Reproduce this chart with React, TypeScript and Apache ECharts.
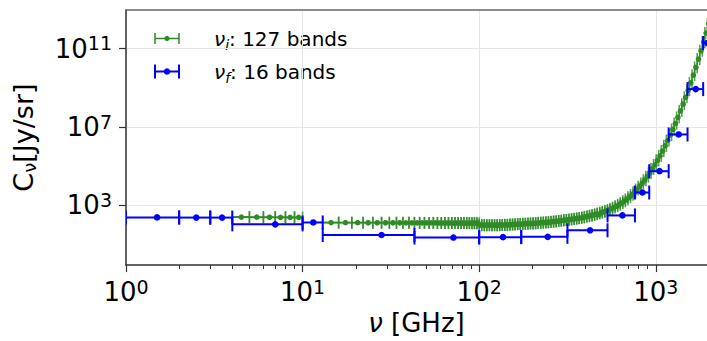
import React, { useEffect, useRef } from 'react';
import * as echarts from 'echarts';

const FONT = "'DejaVu Sans', 'Liberation Sans', sans-serif";
const GREEN = '#2e8b25';
const BLUE = '#0000ff';

// nu_i : 127 bands (band edges per group, value per band)
const greenEdgesA = [4, 5, 6, 7, 8, 9, 10];
const greenValuesA = [255, 252, 250, 248, 246, 244];

const greenEdgesB = [13, 16, 19, 22, 25, 28, 31, 34, 37, 40, 43, 46, 49, 52, 55, 58, 61, 64, 67, 70, 73, 76, 79, 82, 85, 88, 91, 94, 97, 100];
const greenValuesB = [133, 132, 132, 131, 131, 130, 130, 130, 129, 129, 129, 128, 128, 128, 128, 127, 127, 127, 127, 126, 126, 126, 126, 126, 125, 125, 125, 125, 125];

const greenEdgesC = [100, 103.4, 106.9, 110.5, 114.3, 118.2, 122.2, 126.4, 130.7, 135.1, 139.7, 144.5, 149.4, 154.5, 159.7, 165.2, 170.8, 176.6, 182.6, 188.8, 195.2, 201.9, 208.7, 215.8, 223.2, 230.8, 238.6, 246.7, 255.1, 263.8, 272.8, 282.1, 291.6, 301.6, 311.8, 322.4, 333.4, 344.7, 356.4, 368.5, 381.1, 394.0, 407.4, 421.3, 435.6, 450.4, 465.7, 481.5, 497.9, 514.8, 532.3, 550.4, 569.1, 588.5, 608.5, 629.2, 650.6, 672.7, 695.6, 719.2, 743.7, 768.9, 795.1, 822.1, 850.1, 879.0, 908.9, 939.8, 971.7, 1004.8, 1038.9, 1074.3, 1110.8, 1148.5, 1187.6, 1228.0, 1269.7, 1312.9, 1357.5, 1403.7, 1451.4, 1500.7, 1551.8, 1604.5, 1659.1, 1715.5, 1773.8, 1834.1, 1896.5, 1961.0, 2027.6, 2096.5, 2167.8];
const greenValuesC = [98, 98, 98, 98, 98, 98, 98, 98, 100, 100, 102, 102, 105, 107, 110, 112, 112, 115, 117, 120, 120, 123, 126, 129, 132, 135, 138, 141, 148, 151, 158, 162, 170, 178, 182, 191, 200, 209, 219, 229, 245, 263, 282, 302, 324, 355, 389, 427, 468, 525, 589, 676, 776, 912, 1096, 1318, 1622, 2042, 2630, 3467, 4677, 6457, 9120, 1.32e4, 1.95e4, 2.95e4, 4.57e4, 7.24e4, 1.17e5, 2.0e5, 3.39e5, 6.03e5, 1.1e6, 2.04e6, 3.89e6, 7.59e6, 1.51e7, 3.16e7, 6.76e7, 1.48e8, 3.31e8, 7.59e8, 1.82e9, 4.47e9, 1.12e10, 2.95e10, 7.94e10, 2.19e11, 6.31e11, 1.86e12, 5.75e12, 1.82e13];

// nu_f : 16 bands
const blueLow = [1, 2, 3, 4, 10, 13, 43, 100, 173, 316, 533, 762, 918, 1183, 1513, 1855];
const blueHigh = [2, 3, 4, 10, 13, 43, 100, 173, 316, 533, 762, 918, 1183, 1513, 1855, 2070];
const blueValues = [245, 240, 240, 108, 135, 31, 23, 24, 25, 54, 309, 4570, 5.6e4, 4.2e6, 8.7e8, 1.95e11];

const xMajorTicks = [1, 10, 100, 1000];
const xMinorTicks = [2, 3, 4, 5, 6, 7, 8, 9, 20, 30, 40, 50, 60, 70, 80, 90, 200, 300, 400, 500, 600, 700, 800, 900];
const yMajorTicks = [1e3, 1e7, 1e11];

function bandsFrom(edges: number[], values: number[]) {
  return values.map((v, i) => [(edges[i] + edges[i + 1]) / 2, v, edges[i], edges[i + 1]]);
}

const greenData = [
  ...bandsFrom(greenEdgesA, greenValuesA),
  ...bandsFrom(greenEdgesB, greenValuesB),
  ...bandsFrom(greenEdgesC, greenValuesC),
];
const blueData = blueValues.map((v, i) => [(blueLow[i] + blueHigh[i]) / 2, v, blueLow[i], blueHigh[i]]);

function errRender(color: string, lw: number, capLw: number, capHalf: number, capOpacity: number, r: number) {
  return (params: any, api: any) => {
    const x = api.value(0);
    const y = api.value(1);
    const lo = api.value(2);
    const hi = api.value(3);
    const pL = api.coord([lo, y]);
    const pR = api.coord([hi, y]);
    const pC = api.coord([x, y]);
    return {
      type: 'group',
      children: [
        { type: 'line', shape: { x1: pL[0], y1: pL[1], x2: pR[0], y2: pR[1] }, style: { stroke: color, lineWidth: lw } },
        { type: 'line', shape: { x1: pL[0], y1: pL[1] - capHalf, x2: pL[0], y2: pL[1] + capHalf }, style: { stroke: color, lineWidth: capLw, opacity: capOpacity } },
        { type: 'line', shape: { x1: pR[0], y1: pR[1] - capHalf, x2: pR[0], y2: pR[1] + capHalf }, style: { stroke: color, lineWidth: capLw, opacity: capOpacity } },
        { type: 'circle', shape: { cx: pC[0], cy: pC[1], r }, style: { fill: color } },
      ],
    };
  };
}

const powRich = {
  b: { fontSize: 26, fontFamily: FONT, color: '#000', lineHeight: 30 },
  s: { fontSize: 19, fontFamily: FONT, color: '#000', lineHeight: 19, verticalAlign: 'top' },
};
const powFormatter = (v: number) => `{b|10}{s|${Math.round(Math.log10(v))}}`;

const legendRich = {
  v: { fontSize: 20, fontFamily: FONT, fontStyle: 'italic', color: '#000', lineHeight: 26 },
  s: { fontSize: 14, fontFamily: FONT, fontStyle: 'italic', color: '#000', lineHeight: 14, verticalAlign: 'bottom' },
  t: { fontSize: 20, fontFamily: FONT, color: '#000', lineHeight: 26 },
};

function legendItem(y: number, color: string, lw: number, capHalf: number, r: number, sub: string, label: string) {
  return [
    { type: 'line', shape: { x1: 155, y1: y, x2: 179, y2: y }, style: { stroke: color, lineWidth: lw } },
    { type: 'line', shape: { x1: 155, y1: y - capHalf, x2: 155, y2: y + capHalf }, style: { stroke: color, lineWidth: lw } },
    { type: 'line', shape: { x1: 179, y1: y - capHalf, x2: 179, y2: y + capHalf }, style: { stroke: color, lineWidth: lw } },
    { type: 'circle', shape: { cx: 167, cy: y, r }, style: { fill: color } },
    {
      type: 'text', x: 214, y,
      style: { text: `{v|ν}{s|${sub}}{t|${label}}`, rich: legendRich, verticalAlign: 'middle', align: 'left' },
    },
  ];
}

export default function App() {
  const ref = useRef<HTMLDivElement>(null);
  useEffect(() => {
    if (!ref.current) return;
    const chart = echarts.init(ref.current, null, { renderer: 'svg' });
    const option: any = {
      animation: false,
      backgroundColor: '#fff',
      grid: { left: 126, right: 0, top: 10, bottom: 74.3, containLabel: false },
      xAxis: [
        {
          type: 'log', logBase: 10, min: 1, max: 1950, position: 'bottom',
          name: '{v|ν}{t| [GHz]}', nameLocation: 'middle', nameGap: 42,
          nameTextStyle: {
            rich: {
              v: { fontSize: 26, fontFamily: FONT, fontStyle: 'italic', color: '#000', lineHeight: 30 },
              t: { fontSize: 26, fontFamily: FONT, color: '#000', lineHeight: 30 },
            },
          },
          axisLine: { show: true, onZero: false, lineStyle: { color: '#333', width: 1.5 } },
          axisTick: { show: true, length: 7, customValues: xMajorTicks, lineStyle: { color: '#333', width: 1.2 } },
          axisLabel: { customValues: xMajorTicks, margin: 12, formatter: powFormatter, rich: powRich },
          splitLine: { show: true, lineStyle: { color: '#e6e6e6', width: 1 } },
        },
        {
          type: 'log', logBase: 10, min: 1, max: 1950, position: 'bottom',
          axisLine: { show: false, onZero: false },
          axisTick: { show: true, length: 4, customValues: xMinorTicks, lineStyle: { color: '#333', width: 1 } },
          axisLabel: { show: false },
          splitLine: { show: false },
        },
        {
          type: 'log', logBase: 10, min: 1, max: 1950, position: 'top',
          axisLine: { show: true, onZero: false, lineStyle: { color: '#666', width: 1.5 } },
          axisTick: { show: false },
          axisLabel: { show: false },
          splitLine: { show: false },
        },
      ],
      yAxis: {
        type: 'log', logBase: 10, min: 0.9, max: 9.5e12,
        name: '{c|C}{s|ν}{c|[Jy/sr]}', nameLocation: 'middle', nameGap: 88, nameRotate: 90,
        nameTextStyle: {
          rich: {
            c: { fontSize: 27, fontFamily: FONT, color: '#000', lineHeight: 30 },
            s: { fontSize: 18, fontFamily: FONT, color: '#000', lineHeight: 18, verticalAlign: 'bottom' },
          },
        },
        axisLine: { show: true, onZero: false, lineStyle: { color: '#333', width: 1.5 } },
        axisTick: { show: true, length: 7, customValues: yMajorTicks, lineStyle: { color: '#333', width: 1.2 } },
        axisLabel: { customValues: yMajorTicks, margin: 14, formatter: powFormatter, rich: powRich },
        splitLine: { show: true, lineStyle: { color: '#e6e6e6', width: 1 } },
      },
      graphic: [
        ...legendItem(38.5, GREEN, 1.5, 5.5, 2.6, 'i', ': 127 bands'),
        ...legendItem(71.5, BLUE, 2, 7, 3.3, 'f', ': 16 bands'),
      ],
      series: [
        {
          type: 'custom', name: 'nu_i', xAxisIndex: 0, yAxisIndex: 0, clip: true,
          renderItem: errRender(GREEN, 2, 1.6, 6, 0.8, 2.8),
          encode: { x: 0, y: 1 },
          data: greenData,
          z: 2,
        },
        {
          type: 'custom', name: 'nu_f', xAxisIndex: 0, yAxisIndex: 0, clip: true,
          renderItem: errRender(BLUE, 2, 2, 7, 1, 3.3),
          encode: { x: 0, y: 1 },
          data: blueData,
          z: 3,
        },
      ],
    };
    chart.setOption(option);
    return () => chart.dispose();
  }, []);
  return <div ref={ref} style={{ position: 'fixed', left: 0, top: 0, width: 707, height: 341 }} />;
}
